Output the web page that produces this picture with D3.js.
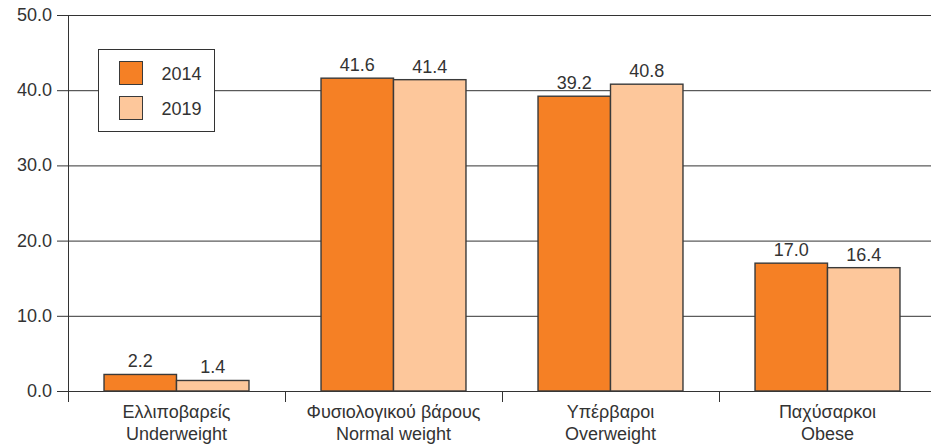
<!DOCTYPE html>
<html>
  <head>
    <meta charset="utf-8">
    <style>
      body { margin: 0; background: #fff; }
      svg text { font-family: "Liberation Sans", Arial, Helvetica, sans-serif; fill: #333; }
    </style>
  </head>
  <body>
    <div id='chart'></div>
    <script src="https://cdn.jsdelivr.net/npm/d3@7"></script>
    <script>

    var categoriesGr = ['Ελλιποβαρείς', 'Φυσιολογικού βάρους', 'Υπέρβαροι', 'Παχύσαρκοι'];
    var categoriesEn = ['Underweight', 'Normal weight', 'Overweight', 'Obese'];
    var years = ['2014', '2019'];
    var values2014 = [2.2, 41.6, 39.2, 17.0];
    var values2019 = [1.4, 41.4, 40.8, 16.4];
    var yTicks = [0, 10, 20, 30, 40, 50];

    var colors = ['#f58025', '#fdc79b'];
    var width = 931, height = 446;
    var plotLeft = 68, plotTop = 15, plotBottom = 391;

    var svg = d3.select('#chart').append('svg')
                .attr('width', width)
                .attr('height', height);

    var y = d3.scaleLinear().domain([0, 50]).range([plotBottom, plotTop]);

    var x0 = d3.scaleBand()
               .domain(categoriesEn)
               .range([plotLeft, plotLeft + 4 * 217])
               .paddingInner(0.332)
               .paddingOuter(0.166);

    var x1 = d3.scaleBand().domain(years).range([0, x0.bandwidth()]);

    var rows = categoriesEn.map(function(c, i) {
      return {cat: c, gr: categoriesGr[i], vals: [values2014[i], values2019[i]]};
    });

    // gridlines (they also make the left ticks)
    svg.append('g').selectAll('line')
       .data(yTicks)
       .enter().append('line')
       .attr('x1', plotLeft - 11).attr('x2', width)
       .attr('y1', function(d) { return y(d) + 0.5; })
       .attr('y2', function(d) { return y(d) + 0.5; })
       .attr('stroke', '#333').attr('stroke-width', 1);

    svg.append('g').selectAll('text')
       .data(yTicks)
       .enter().append('text')
       .attr('x', plotLeft - 16)
       .attr('y', function(d) { return y(d); })
       .attr('dy', '0.33em')
       .attr('text-anchor', 'end')
       .style('font-size', '18px')
       .text(function(d) { return d3.format('.1f')(d); });

    // y axis line
    svg.append('line')
       .attr('x1', plotLeft + 0.5).attr('x2', plotLeft + 0.5)
       .attr('y1', plotTop).attr('y2', plotBottom + 11)
       .attr('stroke', '#333');

    // category separator ticks
    svg.append('g').selectAll('line')
       .data(d3.range(1, categoriesEn.length))
       .enter().append('line')
       .attr('x1', function(i) { return x0.range()[0] + i * x0.step() + 0.5; })
       .attr('x2', function(i) { return x0.range()[0] + i * x0.step() + 0.5; })
       .attr('y1', plotBottom).attr('y2', plotBottom + 11)
       .attr('stroke', '#333');

    // bars
    var groups = svg.append('g').selectAll('g')
       .data(rows)
       .enter().append('g')
       .attr('transform', function(d) { return 'translate(' + x0(d.cat) + ',0)'; });

    groups.selectAll('rect')
       .data(function(d) { return d.vals.map(function(v, j) { return {year: years[j], v: v, j: j}; }); })
       .enter().append('rect')
       .attr('x', function(d) { return x1(d.year); })
       .attr('width', x1.bandwidth())
       .attr('y', function(d) { return y(d.v); })
       .attr('height', function(d) { return plotBottom - y(d.v); })
       .attr('fill', function(d) { return colors[d.j]; })
       .attr('stroke', '#3a3a3a')
       .attr('stroke-width', 1.4);

    groups.selectAll('text.val')
       .data(function(d) { return d.vals.map(function(v, j) { return {year: years[j], v: v}; }); })
       .enter().append('text')
       .attr('class', 'val')
       .attr('x', function(d) { return x1(d.year) + x1.bandwidth() / 2; })
       .attr('y', function(d) { return y(d.v) - 7; })
       .attr('text-anchor', 'middle')
       .style('font-size', '18px')
       .text(function(d) { return d3.format('.1f')(d.v); });

    // category labels
    var labels = svg.append('g').selectAll('text')
       .data(rows)
       .enter().append('text')
       .attr('text-anchor', 'middle')
       .style('font-size', '18px');

    labels.append('tspan')
       .attr('x', function(d) { return x0(d.cat) + x0.bandwidth() / 2; })
       .attr('y', 418)
       .text(function(d) { return d.gr; });

    labels.append('tspan')
       .attr('x', function(d) { return x0(d.cat) + x0.bandwidth() / 2; })
       .attr('y', 440)
       .text(function(d) { return d.cat; });

    // legend
    var legend = svg.append('g').attr('transform', 'translate(98.5,49.5)');
    legend.append('rect')
       .attr('width', 116).attr('height', 82)
       .attr('fill', '#fff').attr('stroke', '#333');

    var items = legend.selectAll('g')
       .data(years)
       .enter().append('g')
       .attr('transform', function(d, i) { return 'translate(21,' + (12 + i * 35) + ')'; });

    items.append('rect')
       .attr('width', 23).attr('height', 23)
       .attr('fill', function(d, i) { return colors[i]; })
       .attr('stroke', '#3a3a3a');

    items.append('text')
       .attr('x', 42).attr('y', 18.5)
       .style('font-size', '18px')
       .text(function(d) { return d; });

    </script>
  </body>
</html>
